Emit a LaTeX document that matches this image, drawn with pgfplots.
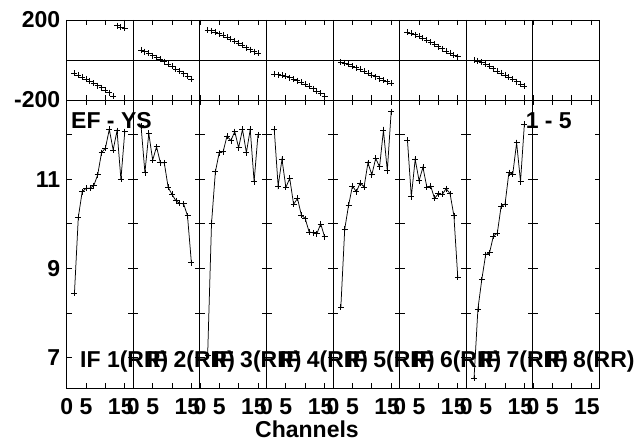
\documentclass[border=0pt]{standalone}
\usepackage{fontspec}
\setmainfont{Liberation Sans}
\usepackage{pgfplots}
\pgfplotsset{compat=1.18}
\usepackage{pgfplotstable}

\newcommand\lblfont{\fontsize{23}{27}\selectfont\bfseries}

% amplitude, one column per IF
\pgfplotstableread{
ch  a1    a2    a3    a4    a5    a6    a7
2   8.44  12.20 7.05  12.12 8.13  11.88 6.54
3   10.15 11.15 10.01 10.85 9.88  10.61 8.09
4   10.72 12.03 11.17 11.45 10.42 11.45 8.75
5   10.80 11.43 11.60 10.82 10.85 10.97 9.31
6   10.80 11.73 11.62 11.02 10.72 11.27 9.35
7   10.86 11.37 11.97 10.44 10.92 10.83 9.73
8   11.10 11.37 11.87 10.57 10.83 10.85 9.79
9   11.60 10.82 12.07 10.20 11.37 10.57 10.40
10  11.70 10.66 11.71 10.12 11.10 10.68 10.44
11  12.12 10.52 12.12 9.82  11.47 10.66 11.15
12  11.66 10.46 11.60 9.80  11.28 10.79 11.12
13  12.09 10.45 12.12 9.78  12.10 10.68 11.82
14  11.00 10.18 10.95 10.00 11.19 10.18 10.95
15  12.07 9.13  12.00 9.71  12.52 8.80  12.24
}\amp

% phase
\pgfplotstableread{
ch  p1    p2    p3    p4    p5    p6    p7
2   -67   50    150   -72   -12   138   -2
3   -75   42    146   -73   -15   133   -5
4   -85   33    140   -77   -22   126   -12
5   -95   22    132   -82   -30   118   -22
6   -105  12    124   -88   -38   108   -32
7   -117  3     114   -95   -47   98    -43
8   -128  -8    104   -103  -57   88    -55
9   -138  -20   95    -112  -66   78    -65
10  -152  -32   85    -122  -75   67    -75
11  -163  -45   73    -132  -84   56    -86
12  -180  -57   62    -143  -93   45    -97
13  172   -68   52    -155  -101  35    -108
14  165   -82   42    -167  -109  25    -120
15  158   -95   33    -180  -117  17    -130
}\pha

\pgfplotsset{
  panel/.style={
    scale only axis, width=66.6pt,
    xmin=0, xmax=17.2, xtick={0,5,10,15},
    tick align=inside, xtick pos=both, ytick pos=both,
    major tick length=5pt,
    axis line style={line width=0.9pt},
    tick style={black, line width=0.8pt},
    tick label style={font=\lblfont},
    yticklabel style={xshift=-3pt},
  },
  dat/.style={black, line width=0.75pt, mark=+, mark size=3pt},
}

\begin{document}
\begin{tikzpicture}
\useasboundingbox (0,0) rectangle (643pt,442pt);
\foreach \k in {1,...,8} {
  \pgfmathsetmacro\xx{66.7+66.6*(\k-1)}
  \ifnum\k=1
    \pgfplotsset{ytop/.style={yticklabels={-200,200}}, ybot/.style={yticklabels={7,,9,,11,}}}
  \else
    \pgfplotsset{ytop/.style={yticklabels={}}, ybot/.style={yticklabels={}}}
  \fi
  \begin{axis}[panel, at={(\xx pt,342pt)}, anchor=south west, height=80pt,
      ymin=-200, ymax=200, ytick={-200,200}, ytop, xticklabels={},
      extra y ticks={0}, extra y tick labels={},
      extra y tick style={grid=major, major grid style={black, line width=0.9pt}}]
    \ifnum\k<8 \addplot[dat, only marks, line width=0.9pt] table[x=ch, y=p\k] {\pha}; \fi
  \end{axis}
  \begin{axis}[panel, at={(\xx pt,342pt)}, anchor=north west, height=288.3pt,
      ymin=6.31, ymax=12.78, ytick={7,...,12}, ybot,
      xticklabels={0,5,,{15\kern8pt}}, xticklabel style={yshift=-7pt}]
    \ifnum\k<8 \addplot[dat] table[x=ch, y=a\k] {\amp}; \fi
  \end{axis}
  \pgfmathsetmacro\xl{80+66.6*(\k-1)}
  \node[anchor=base west, inner sep=0pt, font=\lblfont] at (\xl pt,74.7pt) {IF \k(RR)};
}
\node[anchor=base west, inner sep=0pt, font=\lblfont] at (71pt,313.7pt) {EF - YS};
\node[anchor=base east, inner sep=0pt, font=\lblfont] at (572pt,313.7pt) {1 - 5};
\node[anchor=base, inner sep=0pt, font=\lblfont] at (307pt,4.3pt) {Channels};
\end{tikzpicture}
\end{document}
